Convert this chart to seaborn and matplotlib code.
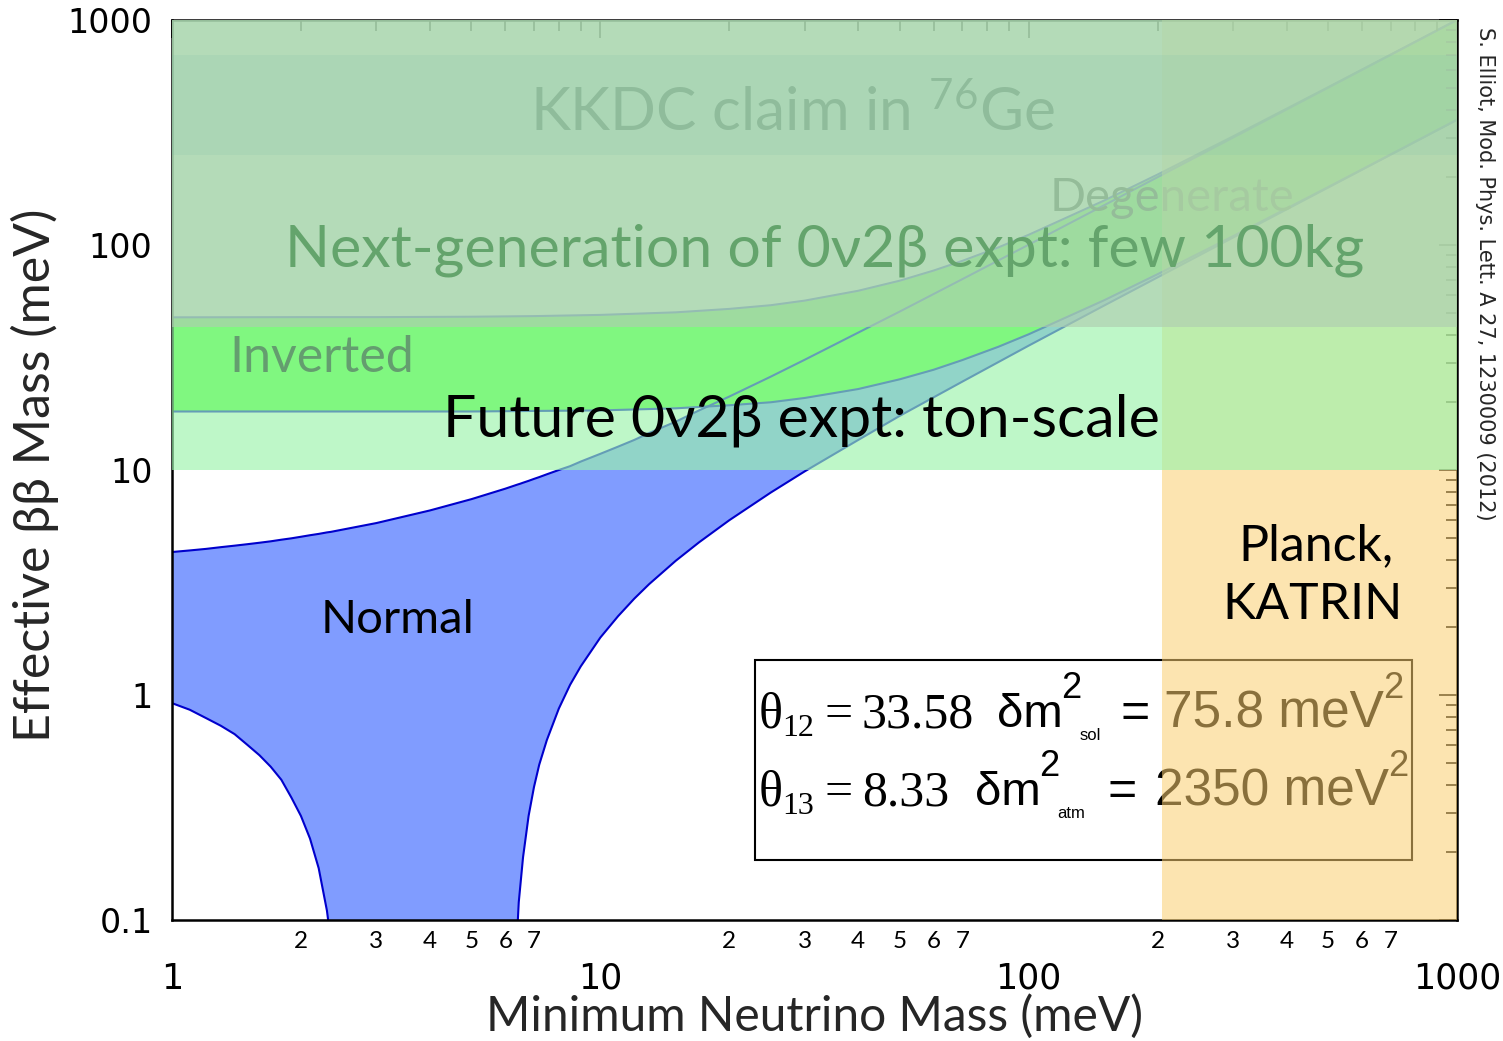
import matplotlib
matplotlib.use("Agg")
import matplotlib.pyplot as plt
import seaborn as sns
from matplotlib.patches import Rectangle
from matplotlib.ticker import FixedLocator, FixedFormatter

# ---------------- data (meV) ----------------
m_normal = [1, 1.1, 1.2, 1.3, 1.4, 1.5, 1.6, 1.7, 1.8, 1.9, 2.0, 2.1, 2.2,
            2.3, 2.35, 3, 4, 5, 6, 6.4, 6.45, 6.5, 6.6, 6.8, 7, 7.2, 7.5, 8,
            8.5, 9, 10, 11, 12, 13, 15, 17, 20, 25, 30, 40, 50, 70, 100, 150,
            200, 300, 500, 700, 1000]
normal_upper = [4.32, 4.39, 4.46, 4.54, 4.61, 4.68, 4.75, 4.82, 4.90, 4.97,
                5.05, 5.13, 5.20, 5.28, 5.31, 5.81, 6.61, 7.42, 8.26, 8.61,
                8.65, 8.69, 8.78, 8.95, 9.13, 9.30, 9.57, 10.0, 10.4, 10.9,
                11.8, 12.7, 13.6, 14.6, 16.4, 18.4, 21.2, 26.0, 30.9, 40.8,
                50.6, 70.5, 100.3, 150.2, 200.2, 300.1, 500.1, 700.1, 1000.1]
# 0.01 = below the plotted range (effective mass vanishes there)
normal_lower = [0.92, 0.86, 0.79, 0.73, 0.67, 0.60, 0.54, 0.48, 0.42, 0.35,
                0.29, 0.23, 0.17, 0.11, 0.08, 0.01, 0.01, 0.01, 0.01, 0.09,
                0.12, 0.14, 0.19, 0.29, 0.39, 0.49, 0.63, 0.87, 1.11, 1.34,
                1.80, 2.24, 2.68, 3.11, 3.95, 4.77, 5.98, 7.94, 9.86, 13.6,
                17.4, 24.7, 35.7, 53.8, 71.8, 107.9, 179.9, 251.9, 359.9]

m_inverted = [1, 2, 3, 5, 7, 10, 15, 20, 25, 30, 40, 50, 60, 70, 85, 100,
              150, 200, 300, 500, 700, 1000]
inverted_upper = [47.7, 47.8, 47.8, 48.0, 48.3, 48.9, 50.2, 52.0, 54.0, 56.6,
                  62.6, 69.4, 77.0, 85.0, 97.6, 111.0, 157.6, 205.7, 303.9,
                  502.3, 701.6, 1001]
inverted_lower = [18.2, 18.2, 18.2, 18.2, 18.3, 18.4, 18.8, 19.4, 20.0, 20.9,
                  22.9, 25.3, 27.9, 30.8, 35.3, 40.1, 56.8, 74.2, 109.5, 180.9,
                  252.6, 360.4]

ton_scale_band = [10, 43]
next_gen_band = [43, 1000]
kkdc_band = [250, 700]
planck_katrin_limit = 205

x_major = [1, 10, 100, 1000]
x_major_labels = ["1", "10", "100", "1000"]
x_minor_digits = [2, 3, 4, 5, 6, 7, 8, 9]
x_minor_shown = [2, 3, 4, 5, 6, 7]
y_major = [0.1, 1, 10, 100, 1000]
y_major_labels = ["0.1", "1", "10", "100", "1000"]

# ---------------- style ----------------
sns.set_theme(style="white")
plt.rcParams["font.family"] = ["Lato", "DejaVu Sans"]
plt.rcParams["mathtext.fontset"] = "custom"
plt.rcParams["mathtext.rm"] = "Lato"

W, H = 1503, 1041
L, R, T, B = 172, 1457, 20, 920
fig = plt.figure(figsize=(W / 100, H / 100), dpi=100)
ax = fig.add_axes([L / W, 1 - B / H, (R - L) / W, (B - T) / H])
ax.set_xscale("log")
ax.set_yscale("log")
ax.set_xlim(1, 1000)
ax.set_ylim(0.1, 1000)
ax.set_facecolor("white")


def apx(px, py):
    return (px - L) / (R - L), (B - py) / (B - T)


# ---------------- regions ----------------
ax.fill_between(m_normal, normal_lower, normal_upper, color="#809cff", lw=0, zorder=1)
ax.fill_between(m_inverted, inverted_lower, inverted_upper, color="#50ff32", lw=0, zorder=1.2)
for xs, ys in [(m_normal, normal_upper), (m_normal, normal_lower),
               (m_inverted, inverted_upper), (m_inverted, inverted_lower)]:
    sns.lineplot(x=xs, y=ys, ax=ax, color="#0000cc", lw=1.5, zorder=1.5,
                 estimator=None, sort=False)

# parameter box (under the Planck band)
x0, y0 = apx(755, 860)
x1, y1 = apx(1412, 660)
ax.add_patch(Rectangle((x0, y0), x1 - x0, y1 - y0, transform=ax.transAxes,
                       facecolor="white", edgecolor="black", lw=1.5, zorder=3))

serif = ["Liberation Serif", "DejaVu Serif"]
sans = ["Liberation Sans Narrow", "Liberation Sans", "DejaVu Sans"]
box_pieces = [
    # text, px, py(baseline), size, family
    ("θ", 759, 727, 36, serif), ("12", 782, 736, 23, serif),
    ("=", 824, 727, 36, serif), ("33.58", 861, 727, 36, serif),
    ("δm", 997, 727, 34, sans), ("2", 1061, 698, 26, sans), ("sol", 1080, 740, 12, sans),
    ("=", 1120, 727, 36, sans), ("75.8 meV", 1164, 727, 37, sans), ("2", 1383, 698, 26, sans),
    ("θ", 759, 805, 36, serif), ("13", 782, 814, 23, serif),
    ("=", 824, 805, 36, serif), ("8.33", 862, 805, 36, serif),
    ("δm", 975, 805, 34, sans), ("2", 1039, 776, 26, sans), ("atm", 1057, 818, 12, sans),
    ("=", 1108, 805, 36, sans), ("2350 meV", 1155, 805, 37, sans), ("2", 1388, 776, 26, sans),
]
for s, px, py, fs, fam in box_pieces:
    xa, ya = apx(px, py)
    ax.text(xa, ya, s, transform=ax.transAxes, ha="left", va="baseline",
            fontsize=fs, family=fam, color="black", zorder=3.5)

# texts that sit under the translucent bands
for s, px, py, fs in [("Inverted", 322, 358, 36),
                      ("KKDC claim in $\\mathregular{^{76}}$Ge", 792, 112, 43.5),
                      ("Degenerate", 1172, 198, 34)]:
    xa, ya = apx(px, py)
    ax.text(xa, ya, s, transform=ax.transAxes, ha="center", va="center",
            fontsize=fs, color="black", zorder=3.6)

# bands
ax.axvspan(planck_katrin_limit, 1000, color="#fbce6f", alpha=0.55, lw=0, zorder=4)
ax.axhspan(*ton_scale_band, color="#9bf3ab", alpha=0.65, lw=0, zorder=5)
ax.axhspan(*next_gen_band, color="#aad7af", alpha=0.88, lw=0, zorder=6)
ax.axhspan(*kkdc_band, color="#78beaa", alpha=0.15, lw=0, zorder=7)

# texts on top
for s, px, py, fs, col in [
        ("Next-generation of 0ν2β expt: few 100kg", 825, 250, 42.5, "#64a46c"),
        ("Future 0ν2β expt: ton-scale", 801, 420, 42.5, "black"),
        ("Normal", 398, 620, 34, "black"),
        ("Planck,", 1316, 546, 36, "black"),
        ("KATRIN", 1313, 605, 36, "black")]:
    xa, ya = apx(px, py)
    ax.text(xa, ya, s, transform=ax.transAxes, ha="center", va="center",
            fontsize=fs, color=col, zorder=9)

# ---------------- axes ----------------
for sp in ax.spines.values():
    sp.set_color("black")
    sp.set_linewidth(1.8)
    sp.set_zorder(2)
ax.xaxis.set_zorder(2)
ax.yaxis.set_zorder(2)

minor_x = [d * 10 ** k for k in range(3) for d in x_minor_digits]
minor_x_labels = [str(d) if d in x_minor_shown else "" for k in range(3) for d in x_minor_digits]
ax.xaxis.set_major_locator(FixedLocator(x_major))
ax.xaxis.set_major_formatter(FixedFormatter(x_major_labels))
ax.xaxis.set_minor_locator(FixedLocator(minor_x))
ax.xaxis.set_minor_formatter(FixedFormatter(minor_x_labels))
minor_y = [d * 10 ** k for k in range(-1, 3) for d in x_minor_digits]
ax.yaxis.set_major_locator(FixedLocator(y_major))
ax.yaxis.set_major_formatter(FixedFormatter(y_major_labels))
ax.yaxis.set_minor_locator(FixedLocator(minor_y))
ax.yaxis.set_minor_formatter(FixedFormatter([""] * len(minor_y)))

ax.tick_params(which="both", direction="in", top=True, right=True, colors="black", width=1.2)
ax.tick_params(which="major", length=13)
ax.tick_params(which="minor", length=8)
ax.tick_params(axis="x", which="major", labelsize=25, pad=30)
ax.tick_params(axis="x", which="minor", labelsize=17.5, pad=8)
ax.tick_params(axis="y", which="major", labelsize=24, pad=14)
for lab in ax.get_xticklabels() + ax.get_yticklabels():
    lab.set_family("DejaVu Sans")

ax.set_xlabel("Minimum Neutrino Mass (meV)", fontsize=34.5)
ax.xaxis.set_label_coords(0.5, apx(0, 1016)[1])
ax.xaxis.label.set_va("center")
ax.set_ylabel("Effective ββ Mass (meV)", fontsize=36)
ax.yaxis.set_label_coords(apx(35, 0)[0], apx(0, 475)[1])
ax.yaxis.label.set_va("center")

fig.text(1485 / W, 1 - 274 / H, "S. Elliot, Mod. Phys. Lett. A 27, 1230009 (2012)",
         rotation=-90, ha="center", va="center", fontsize=15, family="DejaVu Sans")

fig.savefig("out.png", dpi=100)
